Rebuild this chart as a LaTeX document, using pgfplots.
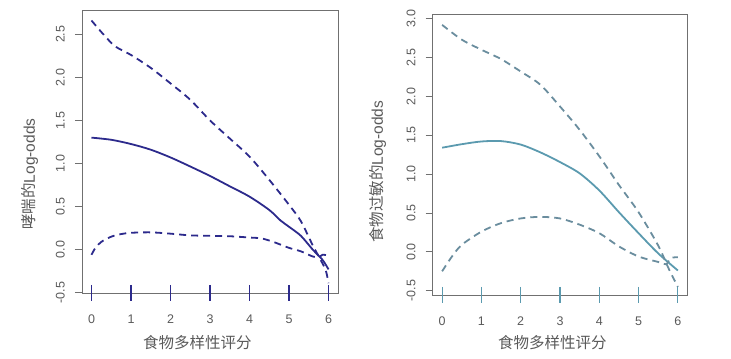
\documentclass[border=0pt]{standalone}
\usepackage{pgfplots}
\pgfplotsset{compat=1.18}
\usepackage{fontspec}
\setmainfont{Liberation Sans}
\newfontfamily\cjk{Noto Sans CJK SC}
\definecolor{leftc}{HTML}{2C2A8C}
\definecolor{rightc}{HTML}{5B9AAF}
\definecolor{rightd}{HTML}{6A8D9E}
\definecolor{axc}{HTML}{707070}
\definecolor{txc}{HTML}{5A5A5A}
\pgfplotsset{
  rpanel/.style={
    scale only axis,
    anchor=south west,
    axis line style={axc, line width=0.9bp},
    tick style={axc, line width=0.9bp},
    tick align=outside,
    xtick pos=bottom, ytick pos=left,
    major tick length=7bp,
    xtick={0,1,2,3,4,5,6},
    xmin=-0.24, xmax=6.24,
    ticklabel style={font=\fontsize{12.5bp}{14bp}\selectfont, text=txc},
    /pgf/number format/assume math mode=true,
    yticklabel style={/pgf/number format/fixed, /pgf/number format/fixed zerofill, /pgf/number format/precision=1, xshift=-10bp, rotate=90, anchor=south, inner sep=0pt},
    xticklabel style={anchor=north, inner sep=0pt, yshift=-15bp},
    label style={font=\fontsize{15.5bp}{17bp}\selectfont, text=txc},
    clip=false,
  }
}
\begin{document}
\begin{tikzpicture}
\useasboundingbox (0bp,0bp) rectangle (731bp,359bp);
\begin{axis}[rpanel, at={(82bp,66bp)}, width=256bp, height=283bp,
  ymin=-0.504, ymax=2.782, ytick={-0.5,0,0.5,1,1.5,2,2.5},
  xlabel={\cjk 食物多样性评分},
  xlabel style={at={(axis description cs:0.451,0)}, anchor=center, yshift=-50bp},
  ylabel={{\cjk 哮喘的}Log-odds},
  ylabel style={at={(axis description cs:-0.203,0.42)}, anchor=center},
]
\addplot[leftc, line width=1.8bp, smooth, tension=0.5] coordinates {
(0,1.30)(0.5,1.275)(1,1.226)(1.5,1.160)(2,1.07)(2.5,0.965)(3,0.855)(3.5,0.735)(4,0.615)(4.5,0.46)(4.78,0.34)(5,0.265)(5.3,0.16)(5.6,0.0)(5.85,-0.12)(6,-0.23)};
\addplot[leftc, line width=1.8bp, dash pattern=on 7bp off 5bp, smooth, tension=0.5] coordinates {
(0,2.66)(0.3,2.50)(0.6,2.36)(1,2.26)(1.5,2.11)(2,1.93)(2.5,1.74)(3,1.50)(3.5,1.29)(4,1.08)(4.5,0.81)(5,0.52)(5.3,0.33)(5.6,0.05)(5.8,-0.12)(5.93,-0.24)(6,-0.39)};
\addplot[leftc, line width=1.8bp, dash pattern=on 7bp off 5bp, smooth, tension=0.5] coordinates {
(0,-0.06)(0.1,0.02)(0.25,0.09)(0.5,0.15)(0.75,0.18)(1,0.195)(1.5,0.20)(2,0.185)(2.5,0.165)(3,0.16)(3.5,0.155)(4,0.14)(4.3,0.13)(4.6,0.09)(5,0.02)(5.3,-0.02)(5.6,-0.08)(5.75,-0.09)(5.85,-0.06)(6,-0.07)};
\addplot[only marks, mark=|, mark size=8bp, mark options={leftc, line width=1.2bp}] coordinates {
(0,-0.504)(1,-0.504)(2,-0.504)(3,-0.504)(4,-0.504)(5,-0.504)(6,-0.504)};
\end{axis}
\begin{axis}[rpanel, at={(432.7bp,64bp)}, width=254.6bp, height=281bp,
  ymin=-0.555, ymax=3.06, ytick={-0.5,0,0.5,1,1.5,2,2.5,3},
  xlabel={\cjk 食物多样性评分},
  xlabel style={at={(axis description cs:0.4705,0)}, anchor=center, yshift=-48bp},
  ylabel={{\cjk 食物过敏的}Log-odds},
  ylabel style={at={(axis description cs:-0.215,0.438)}, anchor=center},
]
\addplot[rightc, line width=1.8bp, smooth, tension=0.5] coordinates {
(0,1.34)(0.5,1.385)(1,1.42)(1.5,1.425)(2,1.38)(2.5,1.28)(3,1.155)(3.5,1.01)(4,0.79)(4.5,0.51)(5,0.24)(5.5,-0.02)(6,-0.24)};
\addplot[rightd, line width=1.8bp, dash pattern=on 7bp off 5bp, smooth, tension=0.5] coordinates {
(0,2.92)(0.5,2.73)(1,2.60)(1.5,2.48)(2,2.32)(2.5,2.15)(3,1.87)(3.5,1.57)(4,1.23)(4.5,0.86)(5,0.51)(5.5,0.08)(5.77,-0.22)(6,-0.45)};
\addplot[rightd, line width=1.8bp, dash pattern=on 7bp off 5bp, smooth, tension=0.5] coordinates {
(0,-0.25)(0.25,-0.06)(0.5,0.09)(1,0.26)(1.5,0.37)(2,0.43)(2.5,0.45)(3,0.43)(3.5,0.35)(4,0.24)(4.5,0.07)(5,-0.06)(5.5,-0.13)(5.7,-0.16)(5.82,-0.08)(6,-0.07)};
\addplot[only marks, mark=|, mark size=8bp, mark options={rightc, line width=1.2bp}] coordinates {
(0,-0.555)(1,-0.555)(2,-0.555)(3,-0.555)(4,-0.555)(5,-0.555)(6,-0.555)};
\end{axis}
\end{tikzpicture}
\end{document}
